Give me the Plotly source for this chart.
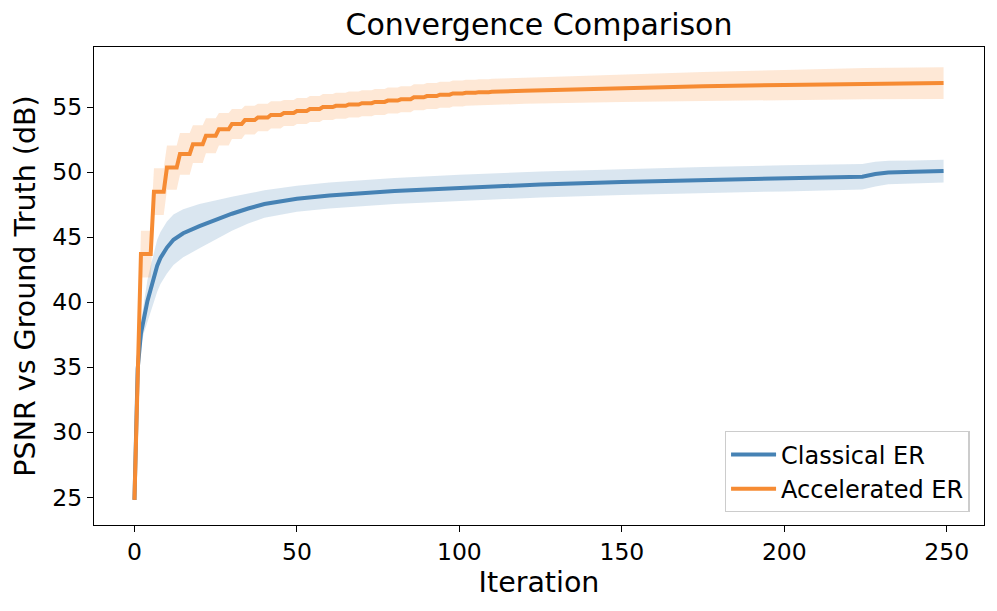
import plotly.graph_objects as go

# ---------------- data ----------------
# Classical ER (smooth curve), sampled at these iterations
classical_iter = [0, 1, 2, 3, 4, 5, 6, 7, 8, 10, 12, 15, 20, 25, 30, 35, 40, 50, 60, 80,
                  100, 125, 150, 175, 200, 224, 228, 232, 240, 249]
classical_mean = [24.8, 34.9, 37.6, 39.0, 40.1, 41.0, 41.9, 42.8, 43.4, 44.2, 44.8, 45.3,
                  45.85, 46.35, 46.8, 47.2, 47.55, 47.95, 48.2, 48.55,
                  48.8, 49.05, 49.25, 49.4, 49.52, 49.65, 49.85, 49.97, 50.02, 50.08]
classical_std = [0.1, 0.3, 0.9, 1.3, 1.6, 1.8, 1.9, 2.0, 2.0, 2.0, 1.95, 1.85, 1.7, 1.5,
                 1.3, 1.15, 1.05, 1.0, 1.0, 1.0, 1.0, 1.0, 1.0, 1.0, 1.0, 0.98, 0.95,
                 0.9, 0.88, 0.87]

# Accelerated ER: piecewise-constant levels (start iteration of each level)
accel_step_start = [0, 1, 2, 6, 10, 14, 18, 22, 26, 30, 34, 38, 42, 46, 50, 54, 58, 62,
                    66, 70, 74, 78, 82, 86, 90, 94, 98, 102, 106]
accel_step_mean = [24.8, 34.9, 43.7, 48.5, 50.35, 51.4, 52.15, 52.8, 53.3, 53.7, 54.0,
                   54.2, 54.4, 54.55, 54.7, 54.85, 55.0, 55.1, 55.2, 55.3, 55.4, 55.5,
                   55.6, 55.75, 55.85, 55.95, 56.05, 56.1, 56.15]
accel_step_std = [0.15, 0.4, 1.8, 1.8, 1.7, 1.6, 1.45, 1.35, 1.25, 1.15, 1.1, 1.05, 1.05,
                  1.0, 1.0, 1.0, 1.0, 1.0, 1.0, 1.0, 1.0, 1.0, 1.0, 1.0, 1.0, 1.0, 1.0,
                  1.0, 1.0]
# Accelerated ER: smooth tail after the last step
accel_tail_iter = [110, 120, 150, 175, 200, 225, 249]
accel_tail_mean = [56.18, 56.25, 56.45, 56.6, 56.7, 56.8, 56.85]
accel_tail_std = [1.0, 1.0, 1.05, 1.1, 1.15, 1.2, 1.22]

x_ticks = [0, 50, 100, 150, 200, 250]
y_ticks = [25, 30, 35, 40, 45, 50, 55]

BLUE = "#4682B4"
ORANGE = "#F68B33"
BLUE_FILL = "rgba(70,130,180,0.2)"
ORANGE_FILL = "rgba(250,140,50,0.2)"

# ------------- build accelerated step path -------------
ax, am, asd = [], [], []
for i, s in enumerate(accel_step_start):
    nxt = accel_step_start[i + 1] if i + 1 < len(accel_step_start) else accel_tail_iter[0]
    ax.append(s); am.append(accel_step_mean[i]); asd.append(accel_step_std[i])
    if nxt - 1 > s:
        ax.append(nxt - 1); am.append(accel_step_mean[i]); asd.append(accel_step_std[i])
ax += accel_tail_iter
am += accel_tail_mean
asd += accel_tail_std

def band(xs, ms, ss, color):
    up = [m + s for m, s in zip(ms, ss)]
    lo = [m - s for m, s in zip(ms, ss)]
    return go.Scatter(x=list(xs) + list(xs)[::-1], y=up + lo[::-1], fill="toself",
                      fillcolor=color, line=dict(width=0), mode="lines",
                      hoverinfo="skip", showlegend=False)

fig = go.Figure()
fig.add_trace(band(classical_iter, classical_mean, classical_std, BLUE_FILL))
fig.add_trace(band(ax, am, asd, ORANGE_FILL))
fig.add_trace(go.Scatter(x=classical_iter, y=classical_mean, mode="lines",
                         line=dict(color=BLUE, width=4), name="Classical ER"))
fig.add_trace(go.Scatter(x=ax, y=am, mode="lines",
                         line=dict(color=ORANGE, width=4), name="Accelerated ER"))

font = "DejaVu Sans"
axis_common = dict(showgrid=False, zeroline=False, showline=True, linecolor="black",
                   linewidth=1.3, mirror=True, ticks="outside", ticklen=6, tickwidth=1.3,
                   tickcolor="black", automargin=False,
                   tickfont=dict(family=font, size=23.5, color="black"))

# page body has an 8px offset in the browser; margins compensate for it
fig.update_layout(
    width=997, height=611,
    margin=dict(l=86, r=21, t=39, b=94),
    paper_bgcolor="white", plot_bgcolor="white",
    title=dict(text="Convergence Comparison", x=531 / 997, xanchor="center",
               y=1 - 16 / 611, yanchor="middle",
               font=dict(family=font, size=30, color="black")),
    xaxis=dict(range=[-12.45, 261.45], tickvals=x_ticks,
               title=dict(text="Iteration", font=dict(family=font, size=28.5, color="black"),
                          standoff=6),
               **axis_common),
    yaxis=dict(range=[22.87, 59.62], tickvals=y_ticks,
               title=dict(text="PSNR vs Ground Truth (dB)",
                          font=dict(family=font, size=28.5, color="black"), standoff=8),
               **axis_common),
    legend=dict(x=0.984, y=0.027, xanchor="right", yanchor="bottom",
                bgcolor="rgba(255,255,255,0.8)", bordercolor="#cccccc", borderwidth=1.3,
                font=dict(family=font, size=24, color="black"),
                tracegroupgap=4, itemwidth=45),
    showlegend=True,
)

fig.write_html("out.html")
